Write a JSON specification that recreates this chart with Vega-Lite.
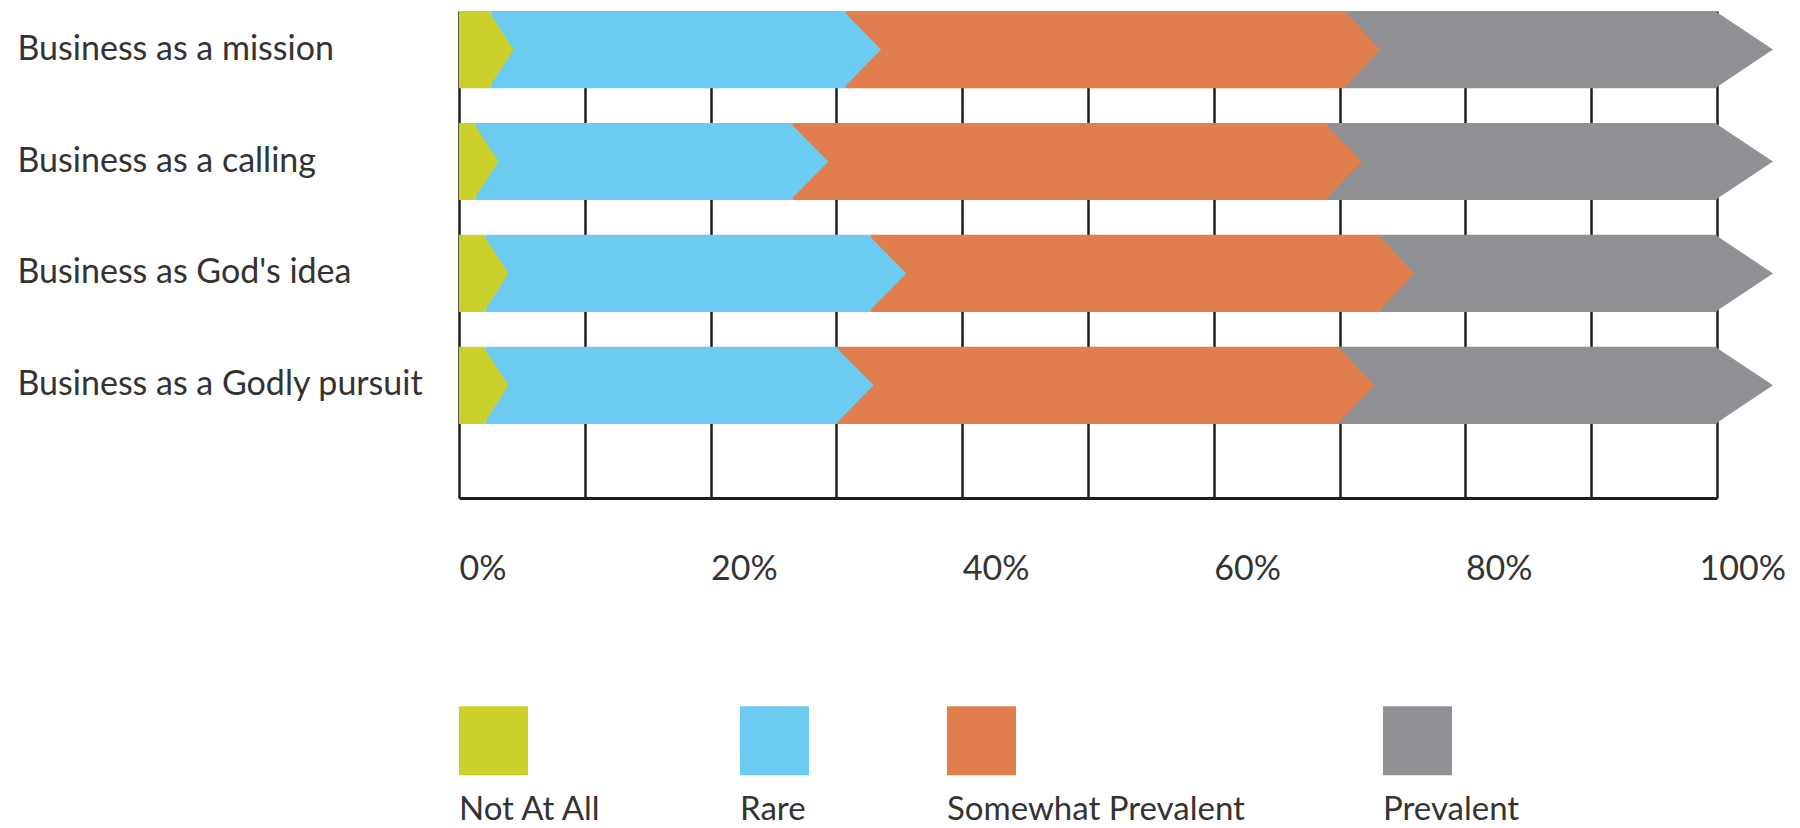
{
  "$schema": "https://vega.github.io/schema/vega-lite/v6.json",
  "autosize": {"type": "none"},
  "padding": {"left": 459, "top": 11, "right": 83, "bottom": 330},
  "width": 1258,
  "height": 487,
  "background": "white",
  "config": {"view": {"stroke": null}, "font": "Lato"},
  "data": {
    "values": [
      {"item": "Business as a mission", "seg": "Not At All", "k": 1, "pct": 2.5},
      {"item": "Business as a mission", "seg": "Rare", "k": 2, "pct": 28.2},
      {"item": "Business as a mission", "seg": "Somewhat Prevalent", "k": 3, "pct": 39.8},
      {"item": "Business as a mission", "seg": "Prevalent", "k": 4, "pct": 29.5},
      {"item": "Business as a calling", "seg": "Not At All", "k": 1, "pct": 1.3},
      {"item": "Business as a calling", "seg": "Rare", "k": 2, "pct": 25.2},
      {"item": "Business as a calling", "seg": "Somewhat Prevalent", "k": 3, "pct": 42.5},
      {"item": "Business as a calling", "seg": "Prevalent", "k": 4, "pct": 31.0},
      {"item": "Business as God's idea", "seg": "Not At All", "k": 1, "pct": 2.1},
      {"item": "Business as God's idea", "seg": "Rare", "k": 2, "pct": 30.6},
      {"item": "Business as God's idea", "seg": "Somewhat Prevalent", "k": 3, "pct": 40.5},
      {"item": "Business as God's idea", "seg": "Prevalent", "k": 4, "pct": 26.8},
      {"item": "Business as a Godly pursuit", "seg": "Not At All", "k": 1, "pct": 2.1},
      {"item": "Business as a Godly pursuit", "seg": "Rare", "k": 2, "pct": 28.0},
      {"item": "Business as a Godly pursuit", "seg": "Somewhat Prevalent", "k": 3, "pct": 39.9},
      {"item": "Business as a Godly pursuit", "seg": "Prevalent", "k": 4, "pct": 30.0}
    ]
  },
  "transform": [
    {"stack": "pct", "groupby": ["item"], "sort": [{"field": "k", "order": "ascending"}], "as": ["start", "end"]}
  ],
  "encoding": {
    "y": {
      "field": "item",
      "type": "nominal",
      "sort": ["Business as a mission", "Business as a calling", "Business as God's idea", "Business as a Godly pursuit"],
      "scale": {"paddingInner": 0.31, "paddingOuter": 0.331, "align": 0},
      "title": null,
      "axis": {
        "orient": "left",
        "ticks": false,
        "domain": false,
        "grid": false,
        "labelAlign": "left",
        "labelBaseline": "middle",
        "labelPadding": 442,
        "labelFontSize": 34,
        "labelColor": "#333333",
        "labelLimit": 600,
        "labelFont": "Lato"
      }
    }
  },
  "layer": [
    {
      "mark": {"type": "bar", "strokeWidth": 0},
      "encoding": {
        "x": {
          "field": "start",
          "type": "quantitative",
          "scale": {"domain": [0, 100], "nice": false},
          "title": null,
          "axis": {
            "values": [0, 10, 20, 30, 40, 50, 60, 70, 80, 90, 100],
            "labelExpr": "datum.value % 20 === 0 ? datum.value + '%' : ''",
            "grid": true,
            "gridColor": "#1e1e1e",
            "gridWidth": 2.5,
            "gridOpacity": 1,
            "ticks": false,
            "domain": true,
            "domainColor": "#1e1e1e",
            "domainWidth": 3,
            "labelAlign": "left",
            "labelBaseline": "alphabetic",
            "labelPadding": 81,
            "labelFont": "Lato",
            "labelFontSize": 34,
            "labelColor": "#333333",
            "labelOverlap": false,
            "labelFlush": false,
            "labelBound": false,
            "labelOffset": {"condition": {"test": "datum.value === 100", "value": -18}, "value": 0}
          }
        },
        "x2": {"field": "end"},
        "color": {
          "field": "seg",
          "type": "nominal",
          "scale": {
            "domain": ["Not At All", "Rare", "Somewhat Prevalent", "Prevalent"],
            "range": ["#CCD02B", "#6BCBF1", "#E07E4D", "#8F9194"]
          },
          "legend": {
            "orient": "none",
            "legendX": 0,
            "legendY": 695,
            "direction": "horizontal",
            "title": null,
            "symbolType": "square",
            "symbolSize": 4761,
            "symbolStrokeWidth": 0,
            "symbolOpacity": 1,
            "labelFont": "Lato",
            "labelFontSize": 33,
            "labelColor": "#333333",
            "labelBaseline": "middle",
            "labelOffset": -69,
            "labelLimit": 500,
            "columnPadding": 138,
            "padding": 0,
            "encode": {
              "symbols": {"update": {"shape": {"value": "square"}}},
              "labels": {"update": {"dy": {"value": 69}}}
            }
          }
        }
      }
    },
    {
      "mark": {"type": "point", "filled": true, "opacity": 1, "strokeWidth": 0, "size": 5960},
      "encoding": {
        "x": {"field": "end", "type": "quantitative"},
        "color": {"field": "seg", "type": "nominal", "legend": null},
        "shape": {
          "field": "k",
          "type": "nominal",
          "scale": {
            "domain": [1, 2, 3, 4],
            "range": ["M-0.05,-1L0.6,0L-0.05,1Z", "M-0.05,-1L0.93,0L-0.05,1Z", "M-0.05,-1L0.9,0L-0.05,1Z", "M-0.05,-1L1.45,0L-0.05,1Z"]
          },
          "legend": null
        }
      }
    }
  ]
}
